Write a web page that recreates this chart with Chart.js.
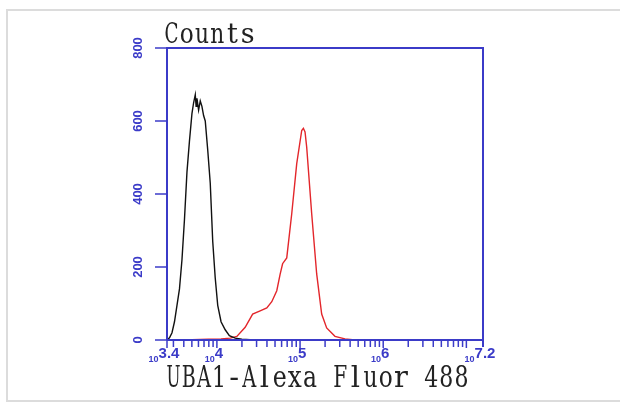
<!DOCTYPE html>
<html>
<head>
<meta charset="utf-8">
<script src="https://cdn.jsdelivr.net/npm/chart.js@4.4.0/dist/chart.umd.min.js"></script>
<style>
  html, body { margin: 0; padding: 0; background: #fff; }
  #wrap { width: 620px; height: 403px; position: relative; }
</style>
</head>
<body>
<div id="wrap"><canvas id="myChart"></canvas></div>
<script>
// x values are log10 of fluorescence intensity
var blackLog = [3.40, 3.43, 3.46, 3.49, 3.52, 3.55, 3.58, 3.61, 3.64, 3.67, 3.70, 3.72, 3.74, 3.75, 3.76, 3.78, 3.80, 3.82, 3.84, 3.86, 3.89, 3.92, 3.95, 3.98, 4.01, 4.05, 4.10, 4.15, 4.22, 4.30, 4.40, 4.55];
var blackCounts = [0, 6, 20, 50, 95, 140, 220, 330, 460, 545, 620, 650, 672, 640, 662, 630, 655, 640, 615, 600, 520, 430, 270, 170, 95, 50, 28, 12, 5, 2, 1, 0];
var redLog = [3.50, 3.70, 3.90, 4.05, 4.16, 4.24, 4.34, 4.43, 4.52, 4.60, 4.66, 4.72, 4.76, 4.79, 4.84, 4.90, 4.96, 5.02, 5.04, 5.06, 5.08, 5.14, 5.20, 5.26, 5.32, 5.42, 5.54, 5.66];
var redCounts = [0, 1, 2, 3, 5, 10, 35, 71, 80, 88, 105, 135, 180, 209, 225, 346, 483, 574, 580, 570, 528, 346, 181, 71, 33, 10, 3, 0];
var xTickPos = [3.4, 4, 5, 6, 7.2];
var xTickExp = ["3.4", "4", "5", "6", "7.2"];
var yTicks = [0, 200, 400, 600, 800];

var axisBlue = "#3b3bc8";

function pts(xs, ys) {
  return xs.map(function (x, i) { return { x: x, y: ys[i] }; });
}

// draw text one glyph per fixed-width cell; wide glyphs are squeezed to fit
function drawMono(ctx, text, x, baseline, advance, maxW) {
  ctx.textAlign = "center";
  ctx.textBaseline = "alphabetic";
  for (var i = 0; i < text.length; i++) {
    var w = ctx.measureText(text[i]).width;
    var s = w > maxW ? maxW / w : 1;
    ctx.save();
    ctx.translate(x + (i + 0.5) * advance, baseline);
    ctx.scale(s, 1);
    ctx.fillText(text[i], 0, 0);
    ctx.restore();
  }
}

var axesPlugin = {
  id: "facsAxes",
  afterDraw: function (chart) {
    var ctx = chart.ctx;
    var xs = chart.scales.x, ys = chart.scales.y;
    var L = chart.chartArea.left, R = chart.chartArea.right;
    var T = chart.chartArea.top, B = chart.chartArea.bottom;
    ctx.save();

    // outer frame of the picture
    ctx.strokeStyle = "#dcdcdc";
    ctx.lineWidth = 2;
    ctx.beginPath();
    ctx.moveTo(7, 402); ctx.lineTo(7, 10); ctx.lineTo(620, 10);
    ctx.moveTo(7, 401); ctx.lineTo(620, 401);
    ctx.stroke();

    // plot frame
    ctx.strokeStyle = axisBlue;
    ctx.lineWidth = 2;
    ctx.beginPath();
    ctx.moveTo(L, B); ctx.lineTo(L, T); ctx.lineTo(R, T); ctx.lineTo(R, B + 7);
    ctx.moveTo(L, B); ctx.lineTo(R, B);
    ctx.stroke();

    // y ticks + rotated labels
    ctx.lineWidth = 1.5;
    ctx.fillStyle = axisBlue;
    ctx.font = "bold 13px 'Liberation Sans', Arial, sans-serif";
    ctx.textAlign = "center";
    ctx.textBaseline = "middle";
    yTicks.forEach(function (v) {
      var py = ys.getPixelForValue(v);
      ctx.beginPath();
      ctx.moveTo(L - 12, py); ctx.lineTo(L, py);
      ctx.stroke();
      ctx.save();
      ctx.translate(L - 29, py);
      ctx.rotate(-Math.PI / 2);
      ctx.fillText(String(v), 0, 0);
      ctx.restore();
    });

    // x ticks: decades and minor ticks
    ctx.lineWidth = 1.5;
    for (var d = 3; d <= 7; d++) {
      for (var k = 1; k <= 9; k++) {
        var lv = d + Math.log10(k);
        if (lv < xs.min - 1e-6 || lv > xs.max + 1e-6) continue;
        var px = xs.getPixelForValue(lv);
        ctx.beginPath();
        ctx.moveTo(px, B - 1);
        ctx.lineTo(px, B + (k === 1 ? 8 : 7));
        ctx.stroke();
      }
    }
    var p0 = xs.getPixelForValue(xs.min);
    ctx.beginPath(); ctx.moveTo(p0, B); ctx.lineTo(p0, B + 8); ctx.stroke();

    // x tick labels "10" + exponent
    ctx.textAlign = "left";
    ctx.textBaseline = "alphabetic";
    xTickPos.forEach(function (lv, i) {
      var px = xs.getPixelForValue(lv);
      var small = "bold 9px 'Liberation Sans', Arial, sans-serif";
      var big = "bold 15px 'Liberation Sans', Arial, sans-serif";
      ctx.font = small;
      var w1 = ctx.measureText("10").width;
      ctx.font = big;
      var w2 = ctx.measureText(xTickExp[i]).width;
      var x0 = px - 3 - (w1 + w2) / 2;
      ctx.font = small;
      ctx.fillText("10", x0, 362);
      ctx.font = big;
      ctx.fillText(xTickExp[i], x0 + w1, 358);
    });

    // titles
    ctx.fillStyle = "#222222";
    ctx.font = "27px 'DejaVu Serif', 'Liberation Serif', serif";
    drawMono(ctx, "Counts", 164, 43, 15.2, 14);
    ctx.font = "29px 'DejaVu Serif', 'Liberation Serif', serif";
    drawMono(ctx, "UBA1-Alexa Fluor 488", 166, 387, 15.15, 14);

    ctx.restore();
  }
};

new Chart("myChart", {
  type: "line",
  data: {
    datasets: [{
      label: "Control",
      data: pts(blackLog, blackCounts),
      borderColor: "#111111",
      borderWidth: 1.4,
      pointRadius: 0,
      tension: 0
    }, {
      label: "UBA1",
      data: pts(redLog, redCounts),
      borderColor: "#e3262b",
      borderWidth: 1.4,
      pointRadius: 0,
      tension: 0
    }]
  },
  options: {
    responsive: true,
    maintainAspectRatio: false,
    animation: false,
    layout: { padding: { left: 167, right: 137, top: 48, bottom: 63 } },
    plugins: { legend: { display: false }, tooltip: { enabled: false } },
    scales: {
      x: { type: "linear", min: 3.4, max: 7.2, display: false },
      y: { min: 0, max: 800, display: false }
    }
  },
  plugins: [axesPlugin]
});
</script>
</body>
</html>
